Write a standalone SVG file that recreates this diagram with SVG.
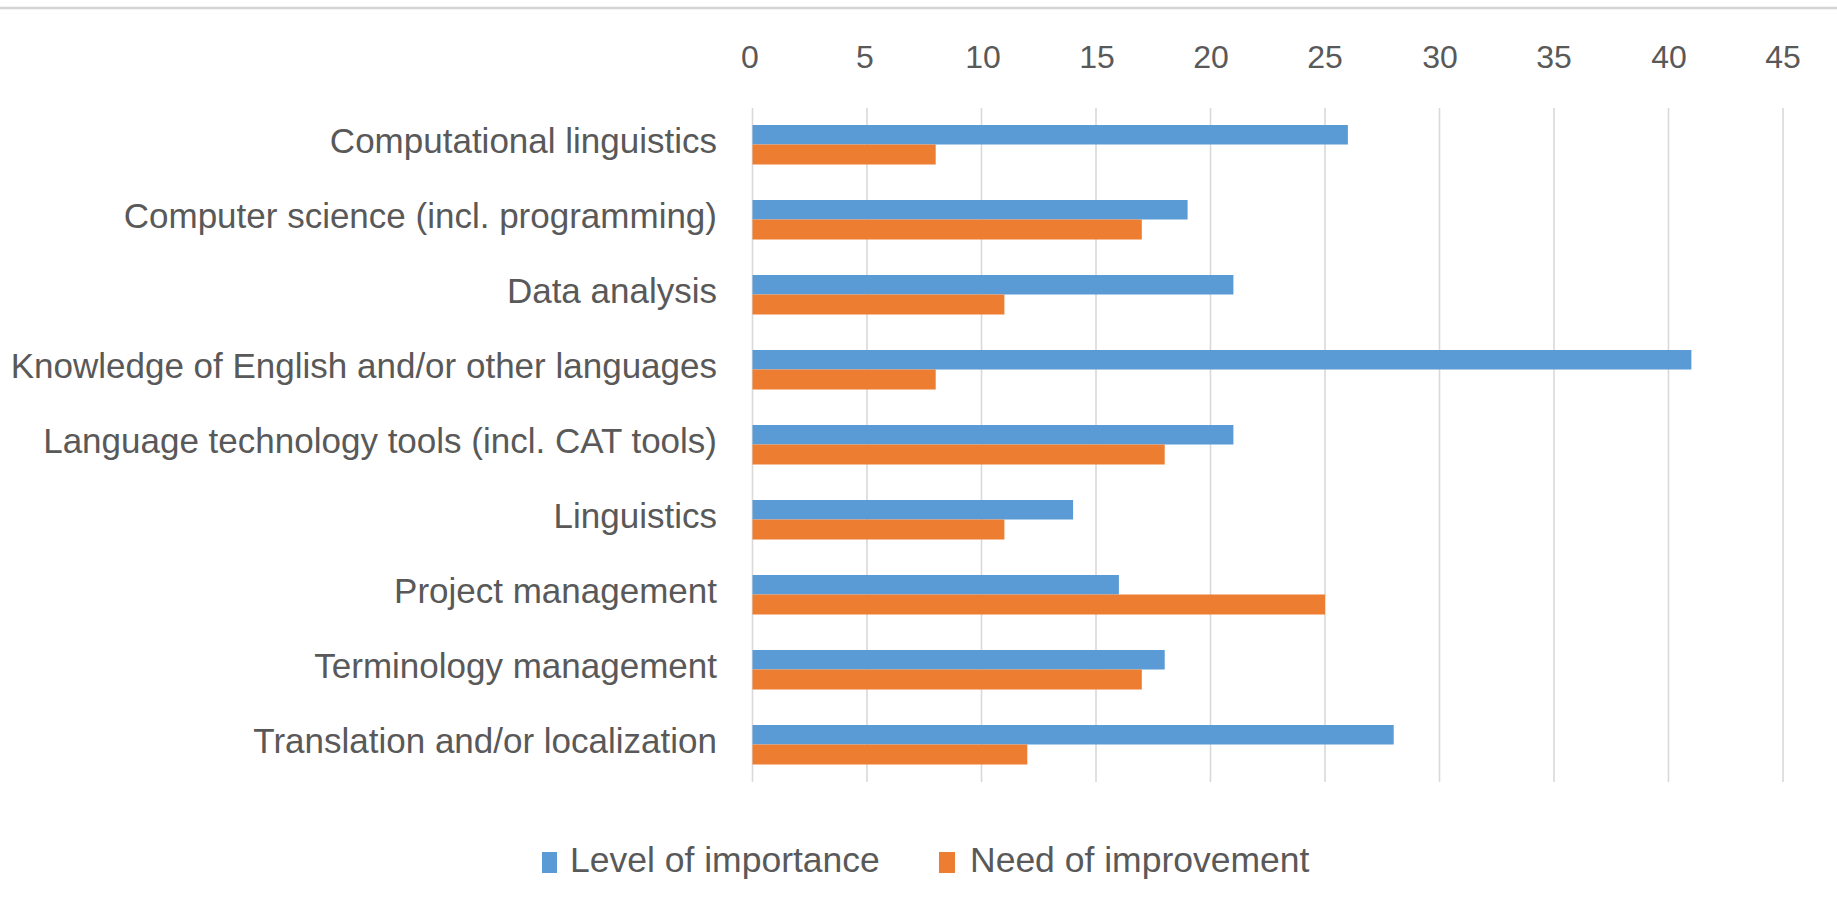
<svg xmlns="http://www.w3.org/2000/svg" width="1837" height="919" viewBox="0 0 1837 919">
<style>
.grid{stroke:#d9d9d9;stroke-width:1.6}
.tick{font-family:"Liberation Sans",Arial,sans-serif;font-size:32px;fill:#595959;text-anchor:middle}
.cat{font-family:"Liberation Sans",Arial,sans-serif;font-size:35px;fill:#595959;text-anchor:end}
.leg{font-family:"Liberation Sans",Arial,sans-serif;font-size:35.5px;fill:#595959}
.imp{fill:#5B9BD5}
.need{fill:#ED7D31}
</style>
<rect x="0" y="0" width="1837" height="919" fill="#ffffff"/>
<line x1="0" y1="8" x2="1837" y2="8" stroke="#d4d4d4" stroke-width="2.5"/>
<g id="gridlines">
<line class="grid" x1="752.5" y1="108" x2="752.5" y2="782"/>
<line class="grid" x1="867" y1="108" x2="867" y2="782"/>
<line class="grid" x1="981.5" y1="108" x2="981.5" y2="782"/>
<line class="grid" x1="1096" y1="108" x2="1096" y2="782"/>
<line class="grid" x1="1210.5" y1="108" x2="1210.5" y2="782"/>
<line class="grid" x1="1325" y1="108" x2="1325" y2="782"/>
<line class="grid" x1="1439.5" y1="108" x2="1439.5" y2="782"/>
<line class="grid" x1="1554" y1="108" x2="1554" y2="782"/>
<line class="grid" x1="1668.5" y1="108" x2="1668.5" y2="782"/>
<line class="grid" x1="1783" y1="108" x2="1783" y2="782"/>
</g>
<g id="axis-labels">
<text class="tick" x="750" y="68">0</text>
<text class="tick" x="865" y="68">5</text>
<text class="tick" x="983" y="68">10</text>
<text class="tick" x="1097" y="68">15</text>
<text class="tick" x="1211" y="68">20</text>
<text class="tick" x="1325" y="68">25</text>
<text class="tick" x="1440" y="68">30</text>
<text class="tick" x="1554" y="68">35</text>
<text class="tick" x="1669" y="68">40</text>
<text class="tick" x="1783" y="68">45</text>
</g>
<g id="cat-computational-linguistics">
<text class="cat" x="717" y="153">Computational linguistics</text>
<rect class="imp" x="752.5" y="125" width="595.4" height="19.5"/>
<rect class="need" x="752.5" y="144.5" width="183.2" height="20"/>
</g>
<g id="cat-computer-science">
<text class="cat" x="717" y="228">Computer science (incl. programming)</text>
<rect class="imp" x="752.5" y="200" width="435.1" height="19.5"/>
<rect class="need" x="752.5" y="219.5" width="389.3" height="20"/>
</g>
<g id="cat-data-analysis">
<text class="cat" x="717" y="303">Data analysis</text>
<rect class="imp" x="752.5" y="275" width="480.9" height="19.5"/>
<rect class="need" x="752.5" y="294.5" width="251.9" height="20"/>
</g>
<g id="cat-knowledge-languages">
<text class="cat" x="717" y="378">Knowledge of English and/or other languages</text>
<rect class="imp" x="752.5" y="350" width="938.9" height="19.5"/>
<rect class="need" x="752.5" y="369.5" width="183.2" height="20"/>
</g>
<g id="cat-language-technology">
<text class="cat" x="717" y="453">Language technology tools (incl. CAT tools)</text>
<rect class="imp" x="752.5" y="425" width="480.9" height="19.5"/>
<rect class="need" x="752.5" y="444.5" width="412.2" height="20"/>
</g>
<g id="cat-linguistics">
<text class="cat" x="717" y="528">Linguistics</text>
<rect class="imp" x="752.5" y="500" width="320.6" height="19.5"/>
<rect class="need" x="752.5" y="519.5" width="251.9" height="20"/>
</g>
<g id="cat-project-management">
<text class="cat" x="717" y="603">Project management</text>
<rect class="imp" x="752.5" y="575" width="366.4" height="19.5"/>
<rect class="need" x="752.5" y="594.5" width="572.5" height="20"/>
</g>
<g id="cat-terminology-management">
<text class="cat" x="717" y="678">Terminology management</text>
<rect class="imp" x="752.5" y="650" width="412.2" height="19.5"/>
<rect class="need" x="752.5" y="669.5" width="389.3" height="20"/>
</g>
<g id="cat-translation-localization">
<text class="cat" x="717" y="753">Translation and/or localization</text>
<rect class="imp" x="752.5" y="725" width="641.2" height="19.5"/>
<rect class="need" x="752.5" y="744.5" width="274.8" height="20"/>
</g>
<g id="legend">
<rect class="imp" x="542" y="852" width="15" height="21"/>
<text class="leg" x="570" y="872">Level of importance</text>
<rect class="need" x="939" y="852" width="16" height="21"/>
<text class="leg" x="970" y="872">Need of improvement</text>
</g>
</svg>
